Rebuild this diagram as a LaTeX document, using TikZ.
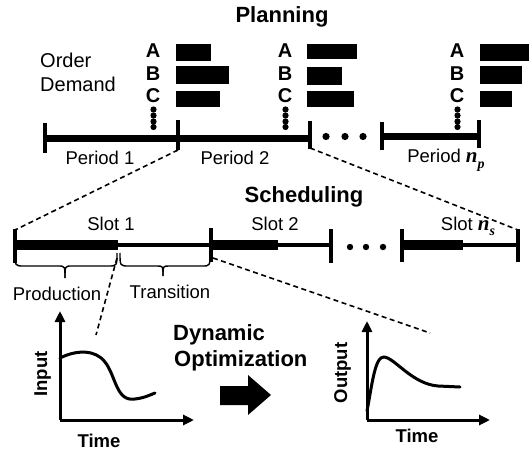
\documentclass[tikz,border=0pt]{standalone}
\usepackage{fontspec}
\setmainfont{Liberation Sans}
\newfontfamily\idxfont{Liberation Serif}
\usetikzlibrary{arrows.meta}

% bold italic index symbol with a subscript, e.g. n_p
\newcommand{\idxsym}[2]{{\idxfont\bfseries\itshape\fontsize{21}{24}\selectfont #1\raisebox{-0.28em}{\fontsize{14}{16}\selectfont #2}}}

\tikzset{
  title/.style={font=\fontsize{22}{26}\selectfont\bfseries, anchor=base, inner sep=0pt},
  plain/.style={font=\fontsize{18.5}{22}\selectfont, anchor=base, inner sep=0pt},
  demand/.style={font=\fontsize{20}{24}\selectfont, anchor=base west, inner sep=0pt},
  prodletter/.style={font=\fontsize{20}{24}\selectfont\bfseries, anchor=base, inner sep=0pt},
  axislabel/.style={font=\fontsize{18.5}{22}\selectfont\bfseries, anchor=base, inner sep=0pt},
  bigline/.style={line width=7pt},
  slotthick/.style={line width=10pt},
  slotthin/.style={line width=3.5pt},
  tick/.style={line width=3.5pt},
  guide/.style={line width=1.6pt, dash pattern=on 5pt off 3.5pt},
  orderbar/.style={fill=black},
  dotmark/.style={fill=black},
  axis/.style={line width=3pt, -{Triangle[length=11pt,width=10pt]}},
  curve/.style={line width=3pt, line cap=round},
  bracket/.style={line width=1.4pt}
}

\begin{document}
\begin{tikzpicture}[x=1pt,y=-1pt]
\useasboundingbox (0,0) rectangle (529,454);

% ---------- Planning level ----------
\node[title] (plan) at (282,23) {Planning};
\node[demand] (order) at (40,68) {Order};
\node[demand] (dem) at (40,92) {Demand};

% order letters and demand bars for each period
\foreach \lx/\nm in {153/a,285/b,457/c}{
  \node[prodletter] (A\nm) at (\lx,58) {A};
  \node[prodletter] (B\nm) at (\lx,80.5) {B};
  \node[prodletter] (C\nm) at (\lx,103) {C};
  \foreach \dy in {109.5,115.5,121.5,127}
    \fill[dotmark] (\lx+0.5,\dy) circle (3.1);
}
\fill[orderbar] (176,44) rectangle (211,61);
\fill[orderbar] (176,66) rectangle (229,84);
\fill[orderbar] (176,91) rectangle (220,107);
\fill[orderbar] (307,44) rectangle (357,59);
\fill[orderbar] (307,67) rectangle (342,85);
\fill[orderbar] (307,91) rectangle (354,107);
\fill[orderbar] (480,44) rectangle (529,61);
\fill[orderbar] (480,66) rectangle (522,84);
\fill[orderbar] (480,91) rectangle (512,107);

% period axis
\coordinate (p0) at (45,138.5);
\coordinate (p1) at (178,138.5);
\coordinate (p2) at (310,138.5);
\coordinate (q0) at (382,136.5);
\coordinate (q1) at (479,136.5);
\draw[bigline] (p0) -- (p2);
\draw[bigline] (q0) -- (q1);
\draw[tick] (45,123) -- (45,153);
\draw[tick] (178,120) -- (178,150);
\draw[tick] (310,121) -- (310,149);
\draw[tick] (382,122) -- (382,150);
\draw[tick] (479,120) -- (479,148);
\foreach \dx in {326,345,363} \fill[dotmark] (\dx,136.5) circle (3.6);
\coordinate (p1low) at (178,150);
\coordinate (p2low) at (310,148);

\node[plain] (per1) at (100,165) {Period 1};
\node[plain] (per2) at (235,165) {Period 2};
\node[plain] (pern) at (446,163) {Period \idxsym{n}{p}};

% ---------- Scheduling level ----------
\node[title] (sched) at (304,202) {Scheduling};

\coordinate (s0) at (15,245);
\coordinate (s0m) at (118,245);
\coordinate (s1) at (211,245);
\coordinate (s1m) at (278,245);
\coordinate (s2) at (331,245);
\coordinate (t0) at (402,245);
\coordinate (t0m) at (463,245);
\coordinate (t1) at (518,245);

\draw[slotthick] (s0) -- (s0m);
\draw[slotthin] (s0m) -- (s1);
\draw[slotthick] (s1) -- (s1m);
\draw[slotthin] (s1m) -- (s2);
\draw[slotthick] (t0) -- (t0m);
\draw[slotthin] (t0m) -- (t1);
\draw[tick] (15,229) -- (15,263);
\draw[tick] (211,228) -- (211,262);
\draw[tick] (331,229) -- (331,263);
\draw[tick] (402,229) -- (402,262);
\draw[tick] (518,229) -- (518,262);
\foreach \dx in {350,366,383} \fill[dotmark] (\dx,247) circle (3.2);

\coordinate (s0top) at (15,230);
\coordinate (t1top) at (518,230);
\draw[guide] (p1low) -- (s0top);
\draw[guide] (p2low) -- (t1top);

\node[plain] (slot1) at (111,230) {Slot 1};
\node[plain] (slot2) at (275,230) {Slot 2};
\node[plain] (slotn) at (468,230) {Slot \idxsym{n}{s}};

% production and transition brackets
\draw[bracket] (15,253) .. controls (15,266) .. (24,266) -- (58,266)
  .. controls (65,266) .. (65,278);
\draw[bracket] (65,278) .. controls (65,266) .. (72,266) -- (108,266)
  .. controls (117,266) .. (117,253);
\draw[bracket] (120,253) .. controls (120,266) .. (129,266) -- (157,266)
  .. controls (163,266) .. (163,276);
\draw[bracket] (163,276) .. controls (163,266) .. (169,266) -- (202,266)
  .. controls (210,266) .. (210,253);
\node[plain] (prod) at (57,300) {Production};
\node[plain] (trans) at (170,298) {Transition};

% ---------- Dynamic optimization ----------
\coordinate (inO) at (60,420);
\coordinate (inY) at (60,311);
\coordinate (inX) at (194,420);
\draw[axis] (inO) -- (inY);
\draw[axis] (inO) -- (inX);
\draw[curve] (60,358) .. controls (76,350) and (95,349) .. (105,362)
  .. controls (116,376) and (116,402) .. (135,399)
  .. controls (144,398) and (150,395) .. (155,393);
\node[axislabel, rotate=90] (inlbl) at (47,374) {Input};
\node[axislabel] (intime) at (99,447) {Time};

\coordinate (slotmid) at (117,258);
\coordinate (intop) at (96,335);
\coordinate (slotend) at (213,258);
\coordinate (outtop) at (430,333);
\draw[guide] (slotmid) -- (intop);
\draw[guide] (slotend) -- (outtop);

\node[title, anchor=base west] (dyn) at (173,340) {Dynamic};
\node[title, anchor=base west] (opt) at (174,366) {Optimization};

\fill (220,386) -- (248,386) -- (248,375) -- (271,395) -- (248,415)
  -- (248,405) -- (220,405) -- cycle;

\coordinate (outO) at (367,420);
\coordinate (outY) at (367,321);
\coordinate (outX) at (490,420);
\draw[axis] (outO) -- (outY);
\draw[axis] (outO) -- (outX);
\draw[curve] (367,411) .. controls (372,385) and (375,356) .. (384,357)
  .. controls (395,358) and (412,384) .. (438,386) -- (460,387);
\node[axislabel, rotate=90] (outlbl) at (347,373) {Output};
\node[axislabel] (outtime) at (417,442) {Time};
\end{tikzpicture}
\end{document}
